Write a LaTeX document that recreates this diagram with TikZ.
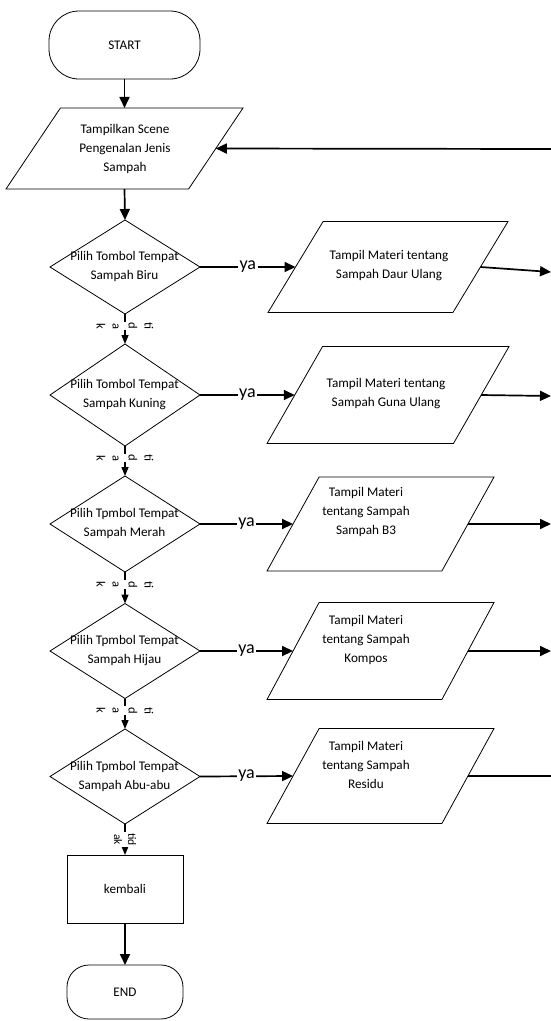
\documentclass[tikz,border=0pt]{standalone}
\usepackage{fontspec}
\setmainfont{Carlito}
\usetikzlibrary{shapes.geometric,arrows.meta}
\begin{document}
\begin{tikzpicture}[x=1pt,y=-1pt,
  every node/.style={inner sep=0pt, outer sep=0pt},
  txt/.style={font=\fontsize{13.2}{19}\selectfont, align=center},
  term/.style={draw, rectangle, line width=0.8pt, font=\fontsize{13.2}{19}\selectfont},
  io/.style={draw, trapezium, trapezium left angle=67, trapezium right angle=113,
    trapezium stretches=true, inner sep=2pt, line width=0.8pt},
  dec/.style={draw, diamond, minimum width=150pt, inner sep=2pt, line width=0.8pt},
  proc/.style={draw, rectangle, line width=0.8pt, font=\fontsize{13.2}{19}\selectfont},
  arr/.style={line width=1.7pt, -{Triangle[length=11pt,width=10pt]}},
  tarr/.style={line width=1.4pt, -{Triangle[length=9pt,width=7pt]}},
  plain/.style={line width=1.7pt},
  yalab/.style={font=\fontsize{18}{20}\selectfont, fill=white, inner sep=1.5pt, anchor=mid},
  tlab/.style={rotate=-90, fill=white, inner sep=1pt, align=center, font=\fontsize{12.5}{16}\selectfont}
]
\useasboundingbox (0,0) rectangle (551,1021);

% start / input
\node[term, rounded corners=30pt, minimum width=151pt, minimum height=68pt] (start) at (124.5,45) {START};
\node[io, minimum width=237pt, minimum height=81pt] (tampil) at (124.5,148.5) {};
\node[txt] (tampilt) at (125,149) {Tampilkan Scene\\Pengenalan Jenis\\Sampah};

% decisions
\node[dec, minimum height=94pt] (d1) at (125,267) {};
\node[dec, minimum height=102pt] (d2) at (125,395) {};
\node[dec, minimum height=96pt] (d3) at (125,524) {};
\node[dec, minimum height=95pt] (d4) at (125,651) {};
\node[dec, minimum height=95pt] (d5) at (125,776.5) {};
\node[txt] (d1t) at (124.5,266.5) {Pilih Tombol Tempat\\Sampah Biru};
\node[txt] (d2t) at (124.5,394.5) {Pilih Tombol Tempat\\Sampah Kuning};
\node[txt] (d3t) at (124.5,523.5) {Pilih Tpmbol Tempat\\Sampah Merah};
\node[txt] (d4t) at (124.5,650.5) {Pilih Tpmbol Tempat\\Sampah Hijau};
\node[txt] (d5t) at (124.5,776) {Pilih Tpmbol Tempat\\Sampah Abu-abu};

% outputs
\node[io, minimum width=240pt, minimum height=91pt] (p1) at (388,267) {};
\node[io, minimum width=242pt, minimum height=97pt] (p2) at (388,395) {};
\node[io, minimum width=227pt, minimum height=94pt] (p3) at (380.5,524) {};
\node[io, minimum width=227pt, minimum height=97pt] (p4) at (380.5,651) {};
\node[io, minimum width=227pt, minimum height=95pt] (p5) at (380.5,776) {};
\node[txt] (p1t) at (389,266) {Tampil Materi tentang\\Sampah Daur Ulang};
\node[txt] (p2t) at (386,393.5) {Tampil Materi tentang\\Sampah Guna Ulang};
\node[txt] (p3t) at (366,512) {Tampil Materi\\tentang Sampah\\Sampah B3};
\node[txt] (p4t) at (366,640) {Tampil Materi\\tentang Sampah\\Kompos};
\node[txt] (p5t) at (366,765) {Tampil Materi\\tentang Sampah\\Residu};

% end part
\node[proc, minimum width=116pt, minimum height=68pt] (kembali) at (125,889) {kembali};
\node[term, rounded corners=22pt, minimum width=116pt, minimum height=54pt] (end) at (125,992) {END};

% free ends at the right border
\coordinate (r0) at (551,149);
\coordinate (o1) at (551,272);
\coordinate (o2) at (551,396);
\coordinate (o3) at (551,524);
\coordinate (o4) at (551,651);
\coordinate (o5) at (551,776);

% main flow
\draw[arr] (start.south) -- (tampil.north);
\draw[arr] (tampil.south) -- (d1.north);
\draw[tarr] (d1.south) -- node[tlab, pos=0.4]{ti\\d\\a\\k} (d2.north);
\draw[tarr] (d2.south) -- node[tlab, pos=0.4]{ti\\d\\a\\k} (d3.north);
\draw[tarr] (d3.south) -- node[tlab, pos=0.4]{ti\\d\\a\\k} (d4.north);
\draw[tarr] (d4.south) -- node[tlab, pos=0.4]{ti\\d\\a\\k} (d5.north);
\draw[tarr] (d5.south) -- node[tlab, pos=0.5, font=\fontsize{11.5}{14}\selectfont]{tid\\ak} (kembali.north);
\draw[arr] (kembali.south) -- (end.north);

% ya branches
\draw[arr] (d1.east) -- node[yalab]{ya} (p1.left side);
\draw[arr] (d2.east) -- node[yalab]{ya} (p2.left side);
\draw[arr] (d3.east) -- node[yalab]{ya} (p3.left side);
\draw[arr] (d4.east) -- node[yalab]{ya} (p4.left side);
\draw[arr] (d5.east) -- node[yalab]{ya} (p5.left side);

% outgoing to the right
\draw[arr] (p1.right side) -- (o1);
\draw[arr] (p2.right side) -- (o2);
\draw[arr] (p3.right side) -- (o3);
\draw[arr] (p4.right side) -- (o4);
\draw[plain] (p5.right side) -- (o5);

% return arrow
\draw[arr] (r0) -- (tampil.right side);
\end{tikzpicture}
\end{document}
